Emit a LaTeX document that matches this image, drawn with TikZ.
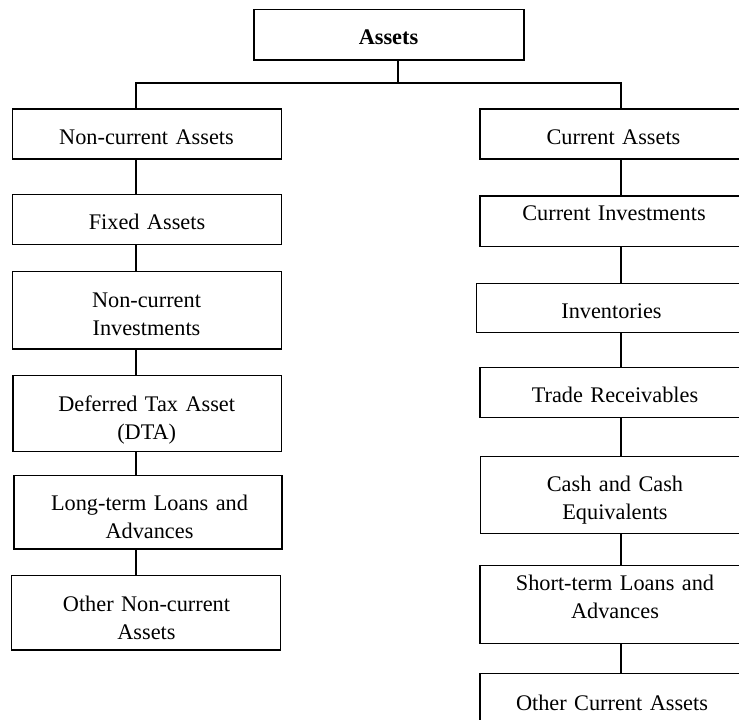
\documentclass[tikz,border=0pt]{standalone}
\usepackage{fontspec}
\setmainfont{Liberation Serif}
\usetikzlibrary{fit}
\begin{document}
\begin{tikzpicture}[x=1pt,y=-1pt,
  box/.style={draw=black, line width=1.4pt, inner sep=0pt},
  lbl/.style={anchor=base, inner sep=0pt, text width=262pt, align=center,
              font=\fontsize{22.3}{28}\selectfont},
  leftlink/.style={line width=1.7pt},
  rightlink/.style={line width=2.2pt},
  bus/.style={line width=2.2pt, line join=miter}]

\useasboundingbox (0,0) rectangle (739,720);
\clip (0,0) rectangle (739,720);

% root
\node[box, line width=1.5pt, fit={(254,9.3) (524,60)}] (assets) {};
\node[lbl, font=\bfseries\fontsize{22.3}{28}\selectfont] (assets-t) at (388.5,44.3) {Assets};

% non-current column
\node[box, fit={(12.3,109) (281.7,159)}]     (nca)  {};
\node[box, fit={(12.7,194.3) (281.7,244.3)}] (fa)   {};
\node[box, fit={(12.3,271.7) (281.7,349)}]   (nci)  {};
\node[box, fit={(13,375.7) (281.7,451.7)}]   (dta)  {};
\node[box, fit={(14,475.7) (282,549)}]       (lt)   {};
\node[box, fit={(11.7,575.5) (280.7,650)}]   (onc)  {};

\node[lbl] (nca-t) at (146.5,144)   {Non-current Assets};
\node[lbl] (fa-t)  at (147,229.3)   {Fixed Assets};
\node[lbl] (nci-t) at (146.5,307.7) {Non-current\\Investments};
\node[lbl] (dta-t) at (146.7,411.7) {Deferred Tax Asset\\(DTA)};
\node[lbl] (lt-t)  at (149.5,510)   {Long-term Loans and\\Advances};
\node[lbl] (onc-t) at (146.5,611.7) {Other Non-current\\Assets};

% current column
\node[box, fit={(480,109) (748,159)}]       (ca)   {};
\node[box, fit={(480,196) (748,246.7)}]     (ci)   {};
\node[box, fit={(476.7,283.3) (748,332.7)}] (inv)  {};
\node[box, fit={(480,367.3) (748,417.3)}]   (tr)   {};
\node[box, fit={(480.7,456.7) (748,533.3)}] (cash) {};
\node[box, fit={(480,565.7) (748,643.3)}]   (st)   {};
\node[box, fit={(480,673.3) (748,723.3)}]   (oca)  {};

\node[lbl] (ca-t)   at (613.5,144)   {Current Assets};
\node[lbl] (ci-t)   at (614,220)     {Current Investments};
\node[lbl] (inv-t)  at (611.5,318.3) {Inventories};
\node[lbl] (tr-t)   at (615,402.7)   {Trade Receivables};
\node[lbl] (cash-t) at (615,491.7)   {Cash and Cash\\Equivalents};
\node[lbl] (st-t)   at (615,590)     {Short-term Loans and\\Advances};
\node[lbl] (oca-t)  at (612,710)     {Other Current Assets};

% branching bus
\coordinate (busL) at (136,83);
\coordinate (busM) at (398,83);
\coordinate (busR) at (621,83);
\draw[bus] (busM |- assets.south) -- (busM);
\draw[bus] (busL |- nca.north) -- (busL) -- (busR) -- (busR |- ca.north);

% chains
\draw[leftlink] (busL |- nca.south) -- (busL |- fa.north);
\draw[leftlink] (busL |- fa.south)  -- (busL |- nci.north);
\draw[leftlink] (busL |- nci.south) -- (busL |- dta.north);
\draw[leftlink] (busL |- dta.south) -- (busL |- lt.north);
\draw[leftlink] (busL |- lt.south)  -- (busL |- onc.north);

\draw[rightlink] (busR |- ca.south)   -- (busR |- ci.north);
\draw[rightlink] (busR |- ci.south)   -- (busR |- inv.north);
\draw[rightlink] (busR |- inv.south)  -- (busR |- tr.north);
\draw[rightlink] (busR |- tr.south)   -- (busR |- cash.north);
\draw[rightlink] (busR |- cash.south) -- (busR |- st.north);
\draw[rightlink] (busR |- st.south)   -- (busR |- oca.north);
\end{tikzpicture}
\end{document}
